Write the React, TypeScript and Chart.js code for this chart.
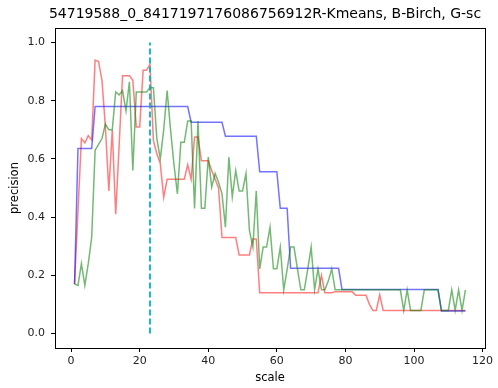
import React, { useEffect, useRef } from "react";
import { Chart, registerables } from "chart.js";

Chart.register(...registerables);

const TITLE = "54719588_0_8417197176086756912R-Kmeans, B-Birch, G-sc";
const X_LABEL = "scale";
const Y_LABEL = "precision";

const scales: number[] = Array.from({ length: 115 }, (_, i) => i + 1);

const kmeans: number[] = [
  0.17, 0.42, 0.67, 0.655, 0.68, 0.665, 0.94, 0.935, 0.87, 0.71,
  0.49, 0.70, 0.41, 0.645, 0.886, 0.886, 0.886, 0.87, 0.71, 0.71,
  0.905, 0.905, 0.925, 0.663, 0.618, 0.584, 0.468, 0.53, 0.53, 0.53,
  0.53, 0.53, 0.53, 0.58, 0.53, 0.675, 0.675, 0.594, 0.594, 0.594,
  0.56, 0.53, 0.5, 0.33, 0.33, 0.33, 0.33, 0.33, 0.27, 0.27,
  0.27, 0.27, 0.325, 0.325, 0.14, 0.14, 0.14, 0.14, 0.14, 0.14,
  0.14, 0.14, 0.14, 0.14, 0.14, 0.14, 0.14, 0.14, 0.14, 0.14,
  0.14, 0.14, 0.2, 0.14, 0.14, 0.14, 0.143, 0.143, 0.143, 0.143,
  0.143, 0.143, 0.131, 0.131, 0.131, 0.131, 0.1, 0.079, 0.079, 0.133,
  0.079, 0.079, 0.079, 0.079, 0.079, 0.079, 0.079, 0.079, 0.079, 0.079,
  0.079, 0.079, 0.079, 0.079, 0.079, 0.079, 0.079, 0.079, 0.079, 0.079,
  0.079, 0.079, 0.079, 0.079, 0.079,
];

const birch: number[] = [
  0.17, 0.636, 0.636, 0.636, 0.636, 0.636, 0.78, 0.78, 0.78, 0.78,
  0.78, 0.78, 0.78, 0.78, 0.78, 0.78, 0.78, 0.78, 0.78, 0.78,
  0.78, 0.78, 0.78, 0.78, 0.78, 0.78, 0.78, 0.78, 0.78, 0.78,
  0.78, 0.78, 0.78, 0.78, 0.726, 0.726, 0.726, 0.726, 0.726, 0.726,
  0.726, 0.726, 0.726, 0.726, 0.678, 0.678, 0.678, 0.678, 0.678, 0.678,
  0.678, 0.678, 0.678, 0.678, 0.556, 0.556, 0.556, 0.556, 0.556, 0.556,
  0.43, 0.43, 0.43, 0.224, 0.224, 0.224, 0.224, 0.224, 0.224, 0.224,
  0.224, 0.224, 0.224, 0.224, 0.224, 0.224, 0.224, 0.224, 0.151, 0.151,
  0.151, 0.151, 0.151, 0.151, 0.151, 0.151, 0.151, 0.151, 0.151, 0.151,
  0.151, 0.151, 0.151, 0.151, 0.151, 0.151, 0.151, 0.151, 0.151, 0.151,
  0.151, 0.151, 0.151, 0.151, 0.151, 0.151, 0.151, 0.077, 0.077, 0.077,
  0.077, 0.077, 0.077, 0.077, 0.077,
];

const sc: number[] = [
  0.17, 0.165, 0.24, 0.165, 0.24, 0.33, 0.63, 0.65, 0.67, 0.72,
  0.70, 0.70, 0.83, 0.82, 0.835, 0.765, 0.865, 0.56, 0.83, 0.83,
  0.83, 0.83, 0.845, 0.845, 0.67, 0.6, 0.7, 0.835, 0.7, 0.58,
  0.48, 0.657, 0.657, 0.73, 0.73, 0.43, 0.73, 0.43, 0.43, 0.606,
  0.503, 0.55, 0.52, 0.48, 0.365, 0.606, 0.47, 0.56, 0.49, 0.49,
  0.55, 0.354, 0.297, 0.49, 0.222, 0.297, 0.297, 0.365, 0.222, 0.222,
  0.297, 0.15, 0.22, 0.297, 0.297, 0.222, 0.15, 0.15, 0.22, 0.297,
  0.15, 0.222, 0.15, 0.15, 0.18, 0.222, 0.15, 0.15, 0.15, 0.15,
  0.15, 0.15, 0.15, 0.15, 0.15, 0.15, 0.15, 0.15, 0.15, 0.15,
  0.15, 0.15, 0.15, 0.15, 0.15, 0.15, 0.079, 0.15, 0.079, 0.079,
  0.079, 0.079, 0.15, 0.15, 0.15, 0.15, 0.15, 0.079, 0.079, 0.079,
  0.15, 0.079, 0.15, 0.079, 0.15,
];

const markerX = 23;
const markerY: number[] = [0, 1];

const xTicks: number[] = [0, 20, 40, 60, 80, 100, 120];
const yTicks: number[] = [0, 0.2, 0.4, 0.6, 0.8, 1.0];

const FONT = "'DejaVu Sans', 'Liberation Sans', sans-serif";

const toPoints = (vals: number[]) => vals.map((v, i) => ({ x: scales[i], y: v }));

const framePlugin = {
  id: "frameAndText",
  afterDraw(chart: any) {
    const { ctx, chartArea } = chart;
    const { left, top, right, bottom } = chartArea;
    ctx.save();
    ctx.strokeStyle = "#000";
    ctx.lineWidth = 1;
    ctx.strokeRect(Math.round(left) + 0.5, Math.round(top) + 0.5, Math.round(right - left), Math.round(bottom - top));
    ctx.fillStyle = "#000";
    ctx.textAlign = "center";
    ctx.textBaseline = "middle";
    ctx.font = `14px ${FONT}`;
    ctx.fillText(TITLE, (left + right) / 2 - 5, 14);
    ctx.font = `11.5px ${FONT}`;
    ctx.fillText(X_LABEL, (left + right) / 2, 378);
    ctx.translate(15, (top + bottom) / 2);
    ctx.rotate(-Math.PI / 2);
    ctx.fillText(Y_LABEL, 0, 0);
    ctx.restore();
  },
};

export default function App() {
  const ref = useRef<HTMLCanvasElement | null>(null);
  useEffect(() => {
    if (!ref.current) return;
    const chart = new Chart(ref.current, {
      type: "line",
      data: {
        datasets: [
          {
            label: "marker",
            data: markerY.map((y) => ({ x: markerX, y })),
            borderColor: "rgba(0,180,190,0.9)",
            borderWidth: 2,
            borderDash: [6, 3],
            pointRadius: 0,
            order: 0,
          },
          {
            label: "sc",
            data: toPoints(sc),
            borderColor: "rgba(0,128,0,0.55)",
            borderWidth: 1.5,
            pointRadius: 0,
            order: 1,
          },
          {
            label: "Birch",
            data: toPoints(birch),
            borderColor: "rgba(0,0,255,0.55)",
            borderWidth: 1.5,
            pointRadius: 0,
            order: 2,
          },
          {
            label: "Kmeans",
            data: toPoints(kmeans),
            borderColor: "rgba(255,0,0,0.5)",
            borderWidth: 1.5,
            pointRadius: 0,
            order: 3,
          },
        ],
      },
      options: {
        animation: false,
        responsive: false,
        maintainAspectRatio: false,
        layout: { padding: { top: 28, right: 13, left: 0, bottom: 0 } },
        plugins: {
          legend: { display: false },
          title: { display: false },
          tooltip: { enabled: false },
        },
        elements: { line: { tension: 0 } },
        scales: {
          x: {
            type: "linear",
            min: -4.7,
            max: 120.7,
            afterFit: (s: any) => { s.height = 40; },
            afterBuildTicks: (s: any) => { s.ticks = xTicks.map((v) => ({ value: v })); },
            border: { display: false },
            grid: { drawOnChartArea: false, drawTicks: true, tickLength: 4, color: "#000" },
            ticks: {
              padding: 3,
              color: "#222",
              font: { family: FONT, size: 11 },
              maxRotation: 0,
              callback: (v: any) => String(v),
            },
          },
          y: {
            type: "linear",
            min: -0.05,
            max: 1.05,
            afterFit: (s: any) => { s.width = 55; },
            afterBuildTicks: (s: any) => { s.ticks = yTicks.map((v) => ({ value: v })); },
            border: { display: false },
            grid: { drawOnChartArea: false, drawTicks: true, tickLength: 4, color: "#000" },
            ticks: {
              padding: 6,
              color: "#222",
              font: { family: FONT, size: 11 },
              callback: (v: any) => Number(v).toFixed(1),
            },
          },
        },
      },
      plugins: [framePlugin],
    });
    return () => chart.destroy();
  }, []);
  return (
    <div style={{ position: "absolute", left: 0, top: 0, width: 498, height: 388, background: "#fff" }}>
      <canvas ref={ref} width={498} height={388} style={{ width: 498, height: 388 }} />
    </div>
  );
}
